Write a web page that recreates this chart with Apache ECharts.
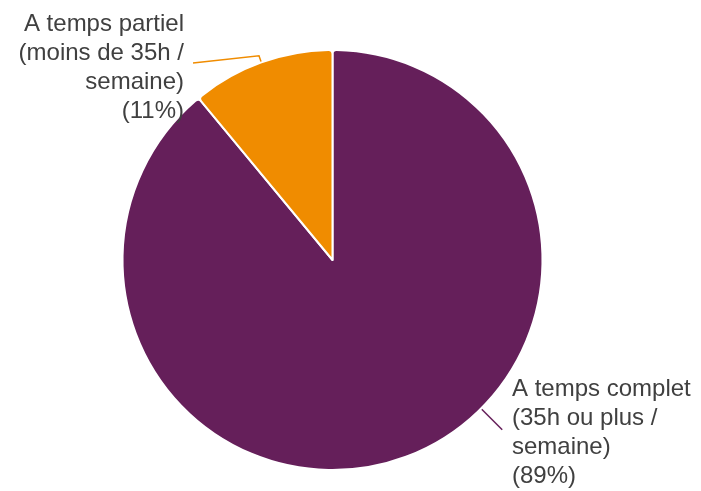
<!DOCTYPE html>
<html><head><meta charset="utf-8">
<script src="https://cdn.jsdelivr.net/npm/echarts@6/dist/echarts.min.js"></script>
<style>html,body{margin:0;padding:0;background:#fff}#c{width:701px;height:491px}</style>
</head><body><div id="c"></div>
<script>
const categories = ['A temps complet\n(35h ou plus /\nsemaine)', 'A temps partiel\n(moins de 35h /\nsemaine)'];
const values = [89, 11];
const colors = ['#651f5a', '#f08c00'];

const cx = 332.5, cy = 260, R = 210;
function p(deg, r) { const a = deg * Math.PI / 180; return [cx + r * Math.cos(a), cy - r * Math.sin(a)]; }

const chart = echarts.init(document.getElementById('c'), null, {renderer: 'canvas'});
chart.setOption({
  animation: false,
  backgroundColor: '#ffffff',
  series: [{
    type: 'pie',
    center: [cx, cy],
    radius: R,
    startAngle: 90,
    clockwise: true,
    data: categories.map((n, i) => ({name: n, value: values[i], itemStyle: {color: colors[i]}})),
    itemStyle: {borderColor: '#ffffff', borderWidth: 2, borderRadius: 4},
    label: {
      show: true,
      position: 'outside',
      formatter: '{b}\n({c}%)',
      color: '#404040',
      fontFamily: 'Liberation Sans, Arial, sans-serif',
      fontSize: 24,
      lineHeight: 29
    },
    labelLine: {show: true, lineStyle: {width: 1.5}},
    labelLayout: function (params) {
      if (params.dataIndex === 0) {
        const a = p(-45, 211), b = p(-45, 240);
        return {x: 512, y: 433, align: 'left', verticalAlign: 'middle', labelLinePoints: [a, b, b]};
      } else {
        return {x: 184, y: 68, align: 'right', verticalAlign: 'middle', labelLinePoints: [p(109.8, 210), p(109.8, 217), [193, 63]]};
      }
    },
    emphasis: {disabled: true}
  }]
});
</script></body></html>
